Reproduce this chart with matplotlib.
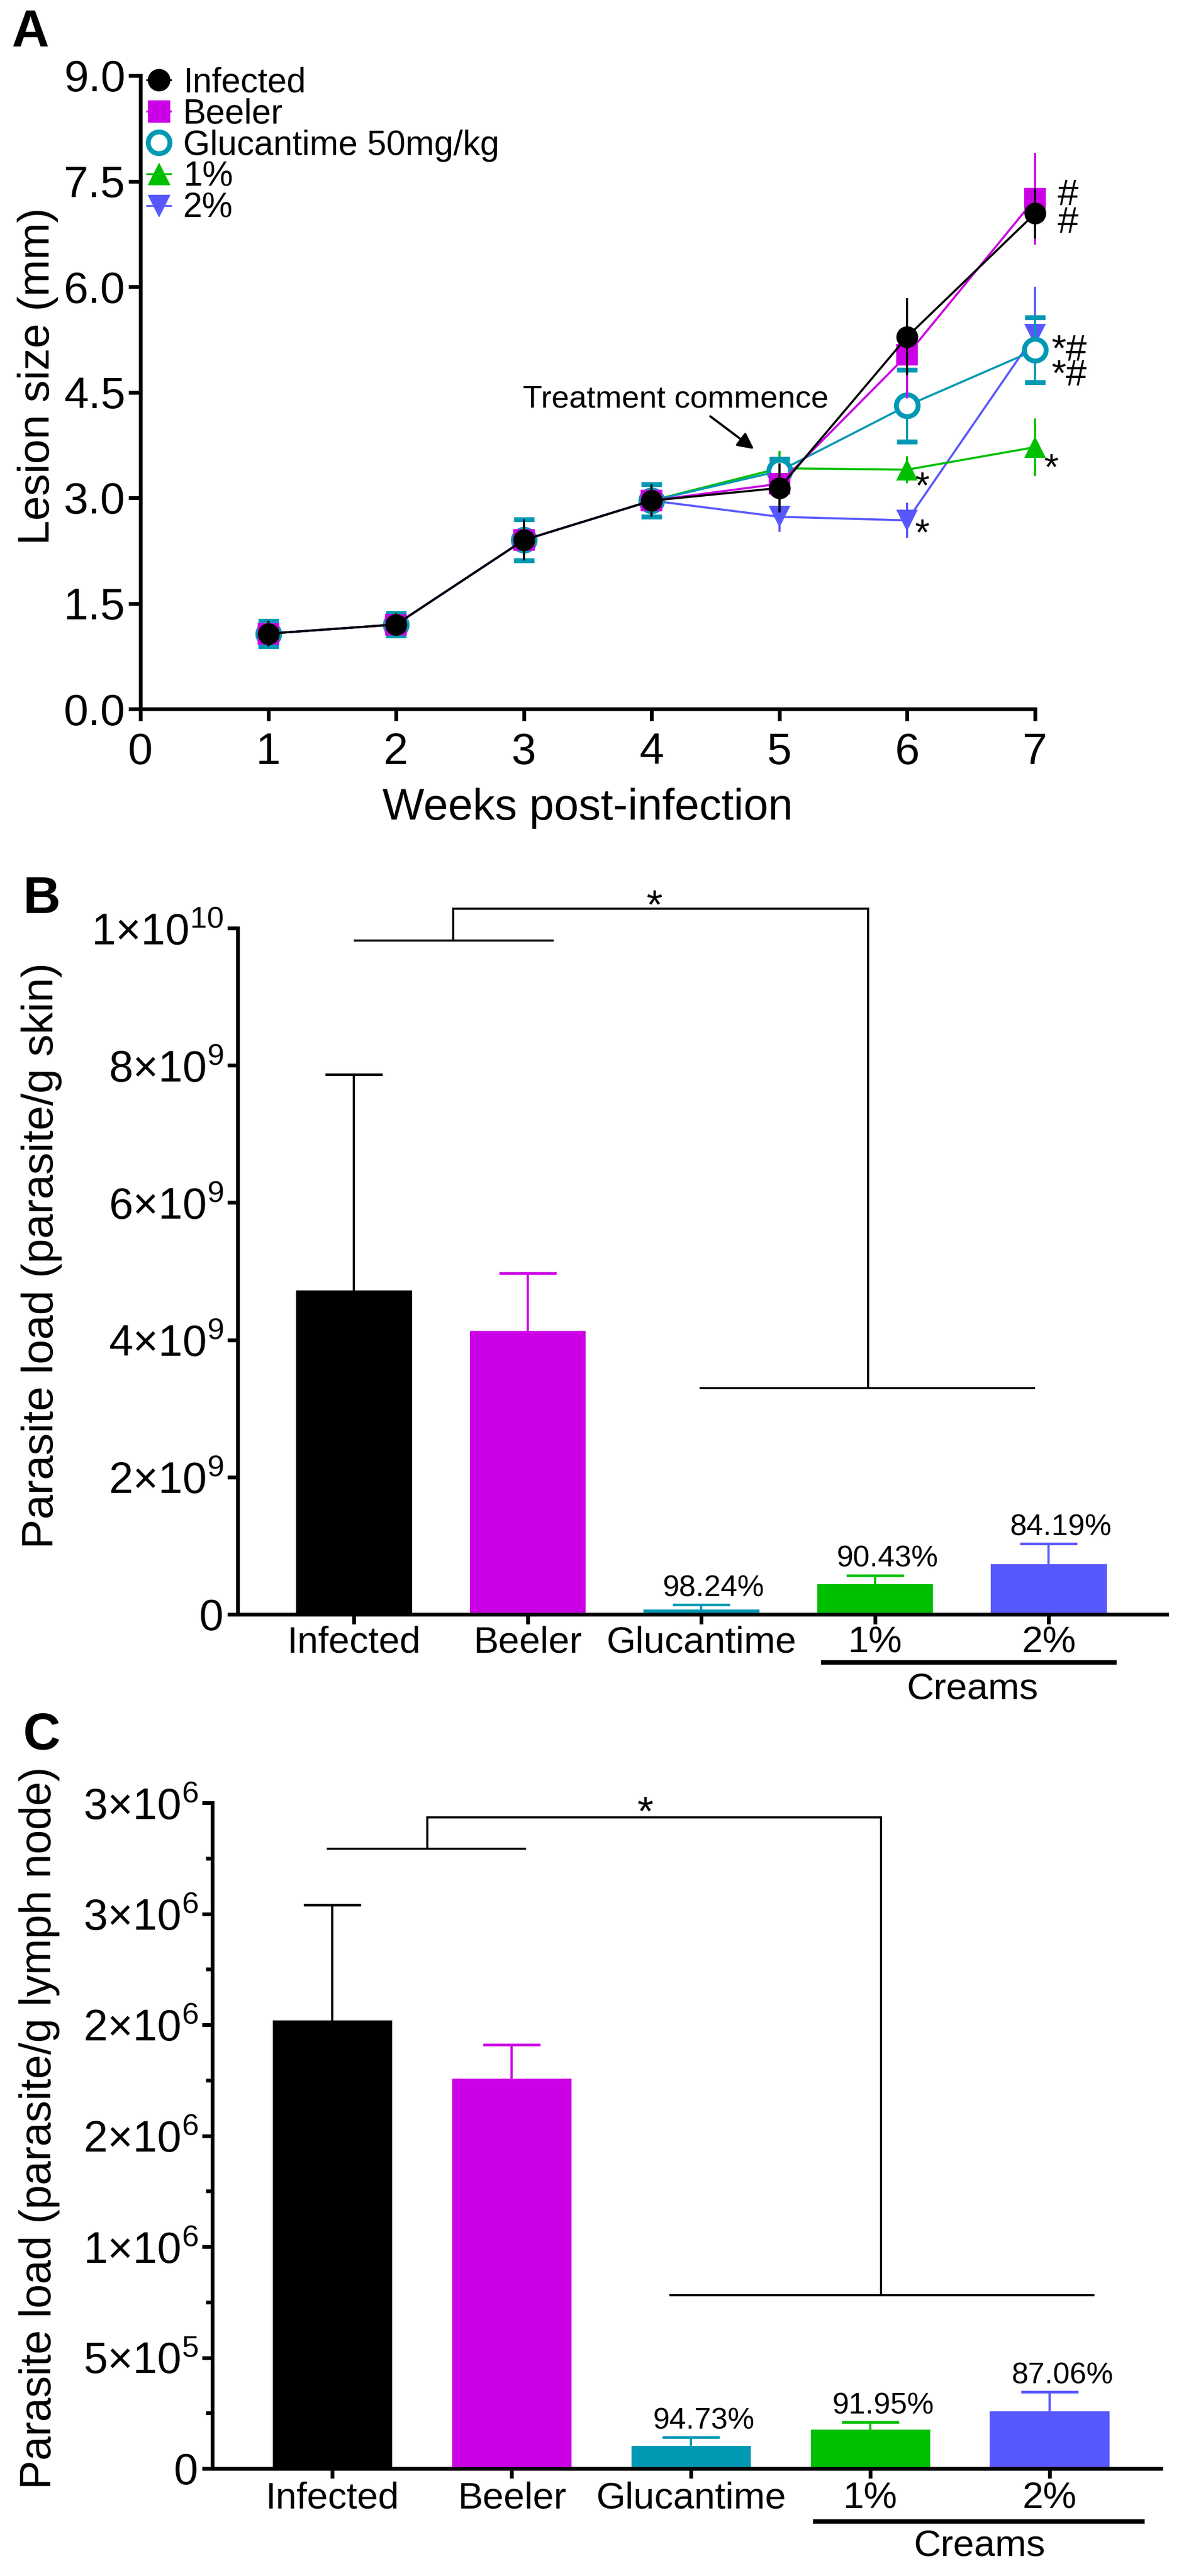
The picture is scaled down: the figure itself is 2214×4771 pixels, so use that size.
import matplotlib
matplotlib.use('Agg')
import matplotlib.pyplot as plt
import matplotlib.transforms as mtransforms
from matplotlib.lines import Line2D
from matplotlib.ticker import MultipleLocator

plt.rcParams['font.family'] = ['Liberation Sans', 'DejaVu Sans']
plt.rcParams['mathtext.fontset'] = 'custom'
plt.rcParams['mathtext.rm'] = 'Liberation Sans'
plt.rcParams['mathtext.default'] = 'regular'

# Colours
c_inf = '#000000'
c_beeler = '#CC00E6'
c_gluc = '#0099B3'
c_one = '#00BF00'
c_two = '#5858FF'

# ---------------- Panel A data: lesion size (mm) ----------------
weeks = [1, 2, 3, 4, 5, 6, 7]
lesion_infected = [1.07, 1.20, 2.40, 2.96, 3.14, 5.29, 7.04]
lesion_infected_sem = [0.18, 0.16, 0.29, 0.23, 0.35, 0.55, 0.36]
lesion_beeler = [1.07, 1.20, 2.40, 2.96, 3.20, 5.03, 7.25]
lesion_beeler_sem = [0.18, 0.16, 0.29, 0.23, 0.26, 0.62, 0.65]
lesion_gluc = [1.07, 1.20, 2.40, 2.96, 3.38, 4.31, 5.10]
lesion_gluc_sem = [0.18, 0.16, 0.29, 0.23, 0.17, 0.51, 0.46]
lesion_one = [1.07, 1.20, 2.40, 2.96, 3.42, 3.40, 3.72]
lesion_one_sem = [0.18, 0.16, 0.29, 0.23, 0.25, 0.19, 0.41]
lesion_two = [1.07, 1.20, 2.40, 2.96, 2.73, 2.68, 5.32]
lesion_two_sem = [0.18, 0.16, 0.29, 0.23, 0.21, 0.25, 0.68]

legend_labels = ['Infected', 'Beeler', 'Glucantime 50mg/kg', '1%', '2%']

# significance marks on panel A: (x, y, text, line spacing)
marks_a = [(7.26, 7.10, '#\n#', 0.75),
           (7.27, 4.91, '*#\n*#', 0.64),
           (7.13, 3.40, '*', 1.0), (6.12, 3.14, '*', 1.0), (6.12, 2.47, '*', 1.0)]

# ---------------- Panel B/C data ----------------
groups = ['Infected', 'Beeler', 'Glucantime', '1%', '2%']
bar_colors = [c_inf, c_beeler, c_gluc, c_one, c_two]

skin_load = [4.72e9, 4.13e9, 0.07e9, 0.44e9, 0.73e9]
skin_err = [3.15e9, 0.84e9, 0.07e9, 0.13e9, 0.30e9]
skin_pct = ['', '', '98.24%', '90.43%', '84.19%']
skin_ticks = [0, 2e9, 4e9, 6e9, 8e9, 1e10]
skin_ticklabels = ['0', r'$2{\times}10^{9}$', r'$4{\times}10^{9}$', r'$6{\times}10^{9}$',
                   r'$8{\times}10^{9}$', r'$1{\times}10^{10}$']
# bracket: list of line segments (x list, y list)
skin_bracket = [([0.0, 1.15], [9.82e9, 9.82e9]),
                ([0.57, 0.57, 2.96, 2.96], [9.82e9, 10.28e9, 10.28e9, 3.3e9]),
                ([1.99, 3.92], [3.3e9, 3.3e9])]
skin_star = (1.73, 10.30e9)

lymph_load = [2.02e6, 1.757e6, 0.103e6, 0.176e6, 0.259e6]
lymph_err = [0.52e6, 0.153e6, 0.038e6, 0.033e6, 0.086e6]
lymph_pct = ['', '', '94.73%', '91.95%', '87.06%']
lymph_ticks = [0, 5e5, 1e6, 1.5e6, 2e6, 2.5e6, 3e6]
lymph_ticklabels = ['0', r'$5{\times}10^{5}$', r'$1{\times}10^{6}$', r'$2{\times}10^{6}$',
                    r'$2{\times}10^{6}$', r'$3{\times}10^{6}$', r'$3{\times}10^{6}$']
lymph_bracket = [([-0.03, 1.08], [2.794e6, 2.794e6]),
                 ([0.53, 0.53, 3.06, 3.06], [2.794e6, 2.935e6, 2.935e6, 0.78e6]),
                 ([1.88, 4.25], [0.78e6, 0.78e6])]
lymph_star = (1.745, 2.95e6)

W, H = 2214, 4771
fig = plt.figure(figsize=(W / 100, H / 100), dpi=100)


def px_axes(left, top, right, bottom):
    return fig.add_axes([left / W, 1 - bottom / H, (right - left) / W, (bottom - top) / H])


def style_axes(ax):
    for s in ['top', 'right']:
        ax.spines[s].set_visible(False)
    for s in ['left', 'bottom']:
        ax.spines[s].set_linewidth(5)
    ax.tick_params(direction='out', width=5, color='black')


# ======================= Panel A =======================
axA = px_axes(260, 140, 1916, 1313)
style_axes(axA)

series = [
    (lesion_two, lesion_two_sem, c_two, 'v', c_two, 0, 3),
    (lesion_one, lesion_one_sem, c_one, '^', c_one, 0, 4),
    (lesion_gluc, lesion_gluc_sem, c_gluc, 'o', 'white', 6.5, 5),
    (lesion_beeler, lesion_beeler_sem, c_beeler, 's', c_beeler, 0, 6),
    (lesion_infected, lesion_infected_sem, c_inf, 'o', c_inf, 0, 7),
]
for vals, sem, col, mk, face, mew, z in series:
    eb = axA.errorbar(weeks, vals, yerr=sem, color=col, marker=mk, ms=29,
                      mfc=face, mec=col, mew=mew, lw=2.8, elinewidth=2.8,
                      capsize=14, capthick=3.2)
    for art in eb.get_children():
        art.set_clip_on(False)
        art.set_zorder(z)
    eb[0].set_zorder(z + 0.5)

axA.set_xlim(0, 7)
axA.set_ylim(0, 9)
axA.set_xticks(range(0, 8))
axA.set_yticks([0, 1.5, 3.0, 4.5, 6.0, 7.5, 9.0])
axA.set_yticklabels(['0.0', '1.5', '3.0', '4.5', '6.0', '7.5', '9.0'])
axA.tick_params(axis='both', length=16, labelsize=59)
axA.tick_params(axis='x', pad=15)
axA.tick_params(axis='y', pad=4)
axA.set_xlabel('Weeks post-infection', fontsize=59, va='center')
axA.xaxis.set_label_coords(0.5, -0.157)
axA.set_ylabel('Lesion size (mm)', fontsize=59, va='center')
axA.yaxis.set_label_coords(-0.115, 0.525)

handles = [
    Line2D([], [], color=c_inf, marker='o', ms=29, mfc=c_inf, mec=c_inf, lw=2.5),
    Line2D([], [], color=c_beeler, marker='s', ms=29, mfc=c_beeler, mec=c_beeler, lw=2.5),
    Line2D([], [], color=c_gluc, marker='o', ms=29, mfc='white', mec=c_gluc, mew=6.5, lw=2.5),
    Line2D([], [], color=c_one, marker='^', ms=29, mfc=c_one, mec=c_one, lw=2.5),
    Line2D([], [], color=c_two, marker='v', ms=29, mfc=c_two, mec=c_two, lw=2.5),
]
axA.legend(handles, legend_labels, loc='upper left', bbox_to_anchor=(0.007, 1.014),
           frameon=False, fontsize=46, handlelength=0.7, handletextpad=0.35,
           labelspacing=-0.03, borderpad=0, borderaxespad=0)

for x, y, t, ls in marks_a:
    axA.text(x, y, t, fontsize=50, ha='center', va='center', multialignment='left',
             linespacing=ls, clip_on=False)

axA.text(4.19, 4.40, 'Treatment commence', fontsize=42, ha='center', va='center')
axA.annotate('', xy=(4.81, 3.68), xytext=(4.45, 4.17),
             arrowprops=dict(arrowstyle='-|>', lw=3, color='black', mutation_scale=45))


# ======================= Panels B and C =======================
def bar_panel(ax, loads, errs, pcts, ticks, ticklabels, ylim, bracket, star,
              ylabel, ylabel_size, label_xy, line_span, line_y, creams_xy, xtick_pad):
    style_axes(ax)
    xs = list(range(len(groups)))
    ax.bar(xs, loads, width=0.667, color=bar_colors, zorder=2)
    for x, v, e, col in zip(xs, loads, errs, bar_colors):
        eb = ax.errorbar([x], [v], yerr=[[0], [e]], fmt='none', ecolor=col,
                         elinewidth=3, capsize=38, capthick=3.5, zorder=3)
        eb[1][0].set_visible(False)
        for art in eb.get_children():
            art.set_clip_on(False)
    for x, v, e, p in zip(xs, loads, errs, pcts):
        if p:
            ax.annotate(p, xy=(x + 0.07, v + e), xytext=(0, 21.6),
                        textcoords='offset points', ha='center', va='center',
                        fontsize=40)
    for bx, by in bracket:
        ax.plot(bx, by, color='black', lw=2.8, clip_on=False, solid_capstyle='butt',
                solid_joinstyle='miter')
    ax.text(star[0], star[1], '*', fontsize=55, ha='center', va='center', clip_on=False)

    ax.set_ylim(*ylim)
    ax.set_yticks(ticks)
    ax.set_yticklabels(ticklabels)
    ax.set_xticks(xs)
    ax.set_xticklabels(groups)
    ax.tick_params(axis='y', length=14, labelsize=58, pad=5)
    ax.tick_params(axis='x', length=13, labelsize=50, pad=xtick_pad)
    ax.set_ylabel(ylabel, fontsize=ylabel_size, va='center')
    ax.yaxis.set_label_coords(*label_xy)

    trans = mtransforms.blended_transform_factory(ax.transData, ax.transAxes)
    ax.plot(line_span, [line_y, line_y], color='black', lw=6, transform=trans,
            clip_on=False, solid_capstyle='butt')
    ax.text(creams_xy[0], creams_xy[1], 'Creams', fontsize=50, ha='center',
            va='center', transform=trans)


axB = px_axes(440, 1719, 2160, 2990)
axB.set_xlim(-0.67, 4.68)
bar_panel(axB, skin_load, skin_err, skin_pct, skin_ticks, skin_ticklabels,
          (0, 1e10), skin_bracket, skin_star, 'Parasite load (parasite/g skin)', 59,
          (-0.211, 0.523), [2.69, 4.39], -0.070, (3.56, -0.110), 2)

axC = px_axes(393, 3339, 2149, 4572)
axC.set_xlim(-0.67, 4.62)
bar_panel(axC, lymph_load, lymph_err, lymph_pct, lymph_ticks, lymph_ticklabels,
          (0, 3e6), lymph_bracket, lymph_star, 'Parasite load (parasite/g lymph node)', 58,
          (-0.182, 0.512), [2.68, 4.53], -0.0795, (3.61, -0.117), 4)
axC.yaxis.set_minor_locator(MultipleLocator(2.5e5))
axC.tick_params(axis='y', which='minor', length=9, width=5)

# Panel letters
fig.text(22 / W, 1 - 86 / H, 'A', fontsize=69, fontweight='bold', va='baseline')
fig.text(43 / W, 1 - 1691 / H, 'B', fontsize=69, fontweight='bold', va='baseline')
fig.text(42 / W, 1 - 3240 / H, 'C', fontsize=69, fontweight='bold', va='baseline')

fig.savefig('out.png', dpi=100)
